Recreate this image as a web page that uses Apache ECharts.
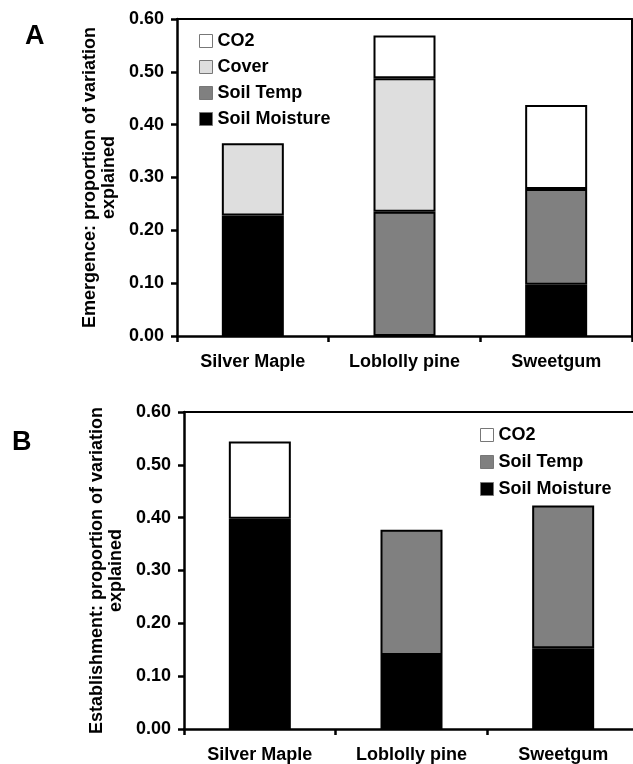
<!DOCTYPE html>
<html>
  <head>
    <meta charset="utf-8" />
    <title>Emergence and establishment</title>
    <script src="https://cdn.jsdelivr.net/npm/echarts@6/dist/echarts.min.js"></script>
  </head>
  <body style="margin: 0">
    <div id="main" style="width: 633px; height: 764px"></div>

    <script>
      // species and variance components
      var species = ["Silver Maple", "Loblolly pine", "Sweetgum"];

      // panel A: emergence
      var emMoisture = [0.228, null, 0.097];
      var emTemp = [null, 0.235, 0.181];
      var emCover = [0.137, 0.253, null];
      var emCO2 = [null, 0.081, 0.159];

      // panel B: establishment
      var estMoisture = [0.398, 0.14, 0.153];
      var estTemp = [null, 0.237, 0.27];
      var estCO2 = [0.146, null, null];

      var font = "Liberation Sans";
      var colors = {
        CO2: "#ffffff",
        Cover: "#dedede",
        "Soil Temp": "#808080",
        "Soil Moisture": "#000000",
      };

      function bar(name, data, idx) {
        return {
          name: name,
          type: "bar",
          stack: "s" + idx,
          xAxisIndex: idx * 2,
          yAxisIndex: idx * 2,
          barWidth: 62,
          data: data,
          itemStyle: {
            color: colors[name],
            borderColor: "#000",
            borderWidth: 2,
          },
        };
      }

      function catAxis(idx) {
        return {
          type: "category",
          gridIndex: idx,
          data: species,
          axisLine: { onZero: false, lineStyle: { color: "#000", width: 2.5 } },
          axisTick: { show: true, length: 6, lineStyle: { color: "#000", width: 2.5 } },
          axisLabel: {
            margin: 17,
            color: "#000",
            fontFamily: font,
            fontWeight: "bold",
            fontSize: 18,
          },
        };
      }

      // top edge of the plot box
      function frameX(idx) {
        return {
          type: "category",
          gridIndex: idx,
          position: "top",
          data: species,
          axisLine: { onZero: false, lineStyle: { color: "#000", width: 2 } },
          axisTick: { show: false },
          axisLabel: { show: false },
        };
      }

      function valAxis(idx, name) {
        return {
          type: "value",
          gridIndex: idx,
          min: 0,
          max: 0.6,
          interval: 0.1,
          name: name,
          nameLocation: "middle",
          nameGap: 58,
          nameTextStyle: {
            color: "#000",
            fontFamily: font,
            fontWeight: "bold",
            fontSize: 18,
            lineHeight: 19,
          },
          splitLine: { show: false },
          axisLine: { show: true, onZero: false, lineStyle: { color: "#000", width: 2.5 } },
          axisTick: { show: true, length: 6, lineStyle: { color: "#000", width: 2.5 } },
          axisLabel: {
            margin: 13,
            color: "#000",
            fontFamily: font,
            fontWeight: "bold",
            fontSize: 18,
            formatter: function (v) {
              return v.toFixed(2);
            },
          },
        };
      }

      // right edge of the plot box
      function frameY(idx) {
        return {
          type: "value",
          gridIndex: idx,
          position: "right",
          min: 0,
          max: 0.6,
          interval: 0.1,
          splitLine: { show: false },
          axisLine: { show: true, onZero: false, lineStyle: { color: "#000", width: 2 } },
          axisTick: { show: false },
          axisLabel: { show: false },
        };
      }

      var legendText = {
        color: "#000",
        fontFamily: font,
        fontWeight: "bold",
        fontSize: 18,
      };
      var legendIcon = { borderColor: "#777", borderWidth: 1 };

      var myChart = echarts.init(document.getElementById("main"));

      var option = {
        animation: false,
        title: [
          {
            text: "A",
            left: 20,
            top: 18,
            textStyle: { fontFamily: font, fontWeight: "bold", fontSize: 27, color: "#000" },
          },
          {
            text: "B",
            left: 7,
            top: 424,
            textStyle: { fontFamily: font, fontWeight: "bold", fontSize: 27, color: "#000" },
          },
        ],
        legend: [
          {
            orient: "vertical",
            left: 199,
            top: 32,
            padding: 0,
            itemWidth: 13,
            itemHeight: 13,
            itemGap: 8,
            icon: "rect",
            itemStyle: legendIcon,
            textStyle: legendText,
            data: ["CO2", "Cover", "Soil Temp", "Soil Moisture"],
          },
          {
            orient: "vertical",
            left: 480,
            top: 426,
            padding: 0,
            itemWidth: 13,
            itemHeight: 13,
            itemGap: 9,
            icon: "rect",
            itemStyle: legendIcon,
            textStyle: legendText,
            data: ["CO2", "Soil Temp", "Soil Moisture"],
          },
        ],
        grid: [
          { left: 177, width: 455, top: 19, height: 317, outerBoundsMode: "none" },
          { left: 184, width: 455, top: 412, height: 317, outerBoundsMode: "none" },
        ],
        xAxis: [catAxis(0), frameX(0), catAxis(1), frameX(1)],
        yAxis: [
          valAxis(0, "Emergence: proportion of variation\nexplained"),
          frameY(0),
          valAxis(1, "Establishment: proportion of variation\nexplained"),
          frameY(1),
        ],
        series: [
          bar("Soil Moisture", emMoisture, 0),
          bar("Soil Temp", emTemp, 0),
          bar("Cover", emCover, 0),
          bar("CO2", emCO2, 0),
          bar("Soil Moisture", estMoisture, 1),
          bar("Soil Temp", estTemp, 1),
          bar("CO2", estCO2, 1),
        ],
      };

      myChart.setOption(option);
    </script>
  </body>
</html>
